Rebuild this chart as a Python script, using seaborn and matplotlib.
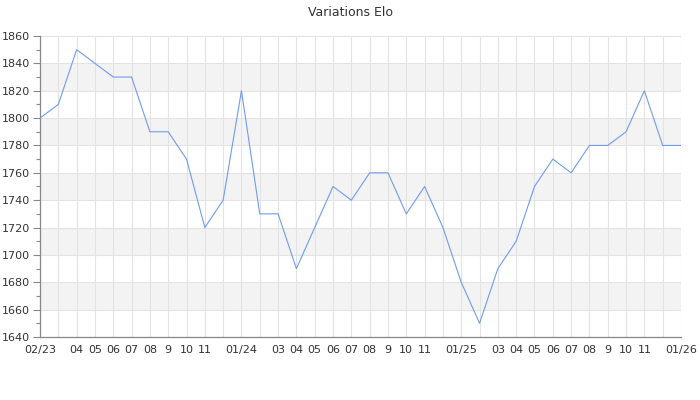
import matplotlib
matplotlib.use("Agg")
import matplotlib.pyplot as plt
from matplotlib.ticker import MultipleLocator
import seaborn as sns
import pandas as pd

months = ["02/23", "03", "04", "05", "06", "07", "08", "9", "10", "11", "12",
          "01/24", "02", "03", "04", "05", "06", "07", "08", "9", "10", "11", "12",
          "01/25", "02", "03", "04", "05", "06", "07", "08", "9", "10", "11", "12",
          "01/26"]
shown = ["02/23", "", "04", "05", "06", "07", "08", "9", "10", "11", "",
         "01/24", "", "03", "04", "05", "06", "07", "08", "9", "10", "11", "",
         "01/25", "", "03", "04", "05", "06", "07", "08", "9", "10", "11", "",
         "01/26"]
elo = [1800, 1810, 1850, 1840, 1830, 1830, 1790, 1790, 1770, 1720, 1740,
       1820, 1730, 1730, 1690, 1720, 1750, 1740, 1760, 1760, 1730, 1750, 1720,
       1680, 1650, 1690, 1710, 1750, 1770, 1760, 1780, 1780, 1790, 1820, 1780,
       1780]

df = pd.DataFrame({"idx": range(len(months)), "elo": elo})

sns.set_theme(style="white")
plt.rcParams['font.family'] = ['DejaVu Sans']

fig = plt.figure(figsize=(7, 4), dpi=100)
ax = fig.add_axes([40/700, 1-337/400, (681-40)/700, (337-36)/400])

# alternating bands
for lo in range(1660, 1860, 40):
    ax.axhspan(lo, lo + 20, color="#f3f3f3", zorder=0, lw=0)

sns.lineplot(data=df, x="idx", y="elo", ax=ax, color="#6f9cf0", linewidth=0.8, zorder=3)

ax.set_xlim(0, len(months) - 1)
ax.set_ylim(1640, 1860)
ax.set_xticks(range(len(months)))
ax.set_xticklabels(shown)
ax.yaxis.set_major_locator(MultipleLocator(20))
ax.yaxis.set_minor_locator(MultipleLocator(10))

ax.grid(True, which="major", color="#e3e3e3", linewidth=0.8, zorder=1)
ax.set_axisbelow(True)
ax.set_xlabel("")
ax.set_ylabel("")

for s in ["top", "right"]:
    ax.spines[s].set_visible(False)
for s in ["left", "bottom"]:
    ax.spines[s].set_color("#888888")
    ax.spines[s].set_linewidth(0.9)

ax.tick_params(axis="y", which="major", left=True, length=5, width=0.8, color="#888888",
               labelsize=8, labelcolor="#333333", pad=2)
ax.tick_params(axis="y", which="minor", left=True, length=3, width=0.8, color="#888888")
ax.tick_params(axis="x", which="major", bottom=False, length=0, labelsize=8,
               labelcolor="#333333", pad=6)

fig.suptitle("Variations Elo", y=0.985, fontsize=9, color="#333333")

fig.savefig("out.png", dpi=100)
